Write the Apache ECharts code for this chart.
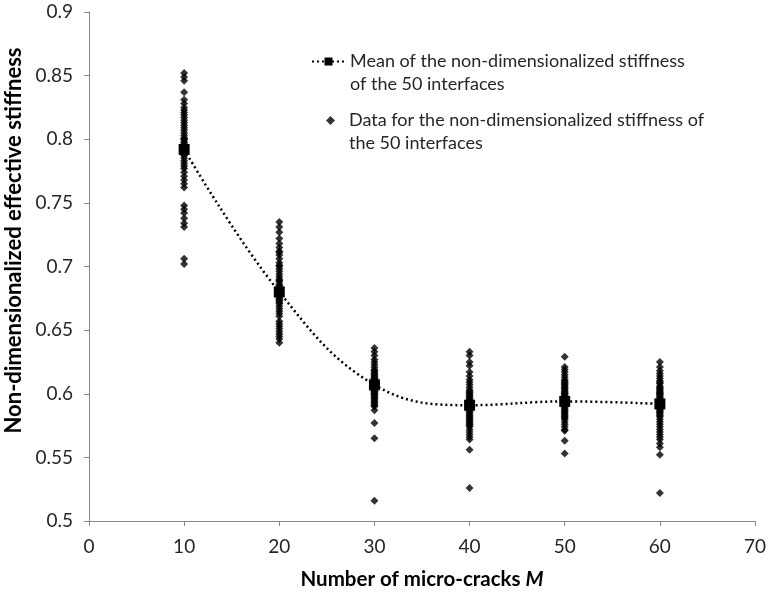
<!DOCTYPE html>
<html>
<head>
<meta charset="utf-8">
<script src="https://cdn.jsdelivr.net/npm/echarts@6/dist/echarts.min.js"></script>
<style>
  html, body { margin: 0; padding: 0; background: #fff; }
  #chart { width: 769px; height: 594px; }
</style>
</head>
<body>
<div id="chart"></div>
<script>
  // number of micro-cracks (x positions of the columns)
  var crackCounts = [10, 20, 30, 40, 50, 60];

  // mean stiffness of the 50 interfaces for each M
  var meanStiffness = [0.792, 0.680, 0.607, 0.591, 0.594, 0.592];

  // stiffness of the 50 interfaces, one array per M
  var stiffnessM10 = [0.852, 0.849, 0.846, 0.837, 0.831, 0.828, 0.825, 0.823, 0.821, 0.819,
    0.817, 0.815, 0.813, 0.811, 0.809, 0.807, 0.805, 0.803, 0.801, 0.800,
    0.798, 0.797, 0.795, 0.794, 0.793, 0.792, 0.791, 0.790, 0.789, 0.788,
    0.787, 0.785, 0.783, 0.781, 0.779, 0.777, 0.774, 0.771, 0.768, 0.765,
    0.762, 0.748, 0.745, 0.742, 0.738, 0.734, 0.731, 0.706, 0.702, 0.800];
  var stiffnessM20 = [0.735, 0.731, 0.727, 0.722, 0.718, 0.715, 0.712, 0.709, 0.706, 0.703,
    0.700, 0.698, 0.696, 0.694, 0.692, 0.690, 0.688, 0.686, 0.684, 0.683,
    0.682, 0.681, 0.680, 0.679, 0.678, 0.677, 0.676, 0.675, 0.674, 0.673,
    0.671, 0.669, 0.667, 0.665, 0.663, 0.661, 0.657, 0.655, 0.653, 0.651,
    0.649, 0.647, 0.645, 0.643, 0.640, 0.701, 0.711, 0.689, 0.685, 0.672];
  var stiffnessM30 = [0.636, 0.633, 0.630, 0.627, 0.625, 0.623, 0.621, 0.619, 0.618, 0.617,
    0.616, 0.615, 0.614, 0.613, 0.612, 0.611, 0.610, 0.609, 0.608, 0.607,
    0.607, 0.606, 0.606, 0.605, 0.605, 0.604, 0.604, 0.603, 0.602, 0.601,
    0.600, 0.600, 0.599, 0.598, 0.597, 0.596, 0.595, 0.594, 0.593, 0.592,
    0.591, 0.590, 0.587, 0.577, 0.565, 0.516, 0.608, 0.612, 0.603, 0.602];
  var stiffnessM40 = [0.633, 0.630, 0.625, 0.622, 0.617, 0.614, 0.611, 0.609, 0.607, 0.605,
    0.603, 0.601, 0.600, 0.599, 0.598, 0.597, 0.596, 0.595, 0.594, 0.593,
    0.592, 0.591, 0.591, 0.590, 0.590, 0.589, 0.588, 0.587, 0.586, 0.585,
    0.584, 0.583, 0.582, 0.581, 0.580, 0.579, 0.578, 0.577, 0.576, 0.575,
    0.574, 0.572, 0.570, 0.568, 0.566, 0.564, 0.556, 0.526, 0.602, 0.594];
  var stiffnessM50 = [0.629, 0.621, 0.619, 0.617, 0.615, 0.613, 0.611, 0.610, 0.608, 0.607,
    0.606, 0.605, 0.604, 0.603, 0.602, 0.601, 0.600, 0.599, 0.598, 0.597,
    0.596, 0.596, 0.595, 0.595, 0.594, 0.594, 0.593, 0.593, 0.592, 0.591,
    0.590, 0.589, 0.588, 0.587, 0.586, 0.585, 0.584, 0.583, 0.582, 0.581,
    0.580, 0.578, 0.576, 0.574, 0.572, 0.571, 0.563, 0.553, 0.600, 0.609];
  var stiffnessM60 = [0.625, 0.621, 0.618, 0.616, 0.614, 0.612, 0.610, 0.608, 0.606, 0.605,
    0.604, 0.603, 0.602, 0.601, 0.600, 0.599, 0.598, 0.597, 0.596, 0.595,
    0.594, 0.593, 0.592, 0.592, 0.591, 0.591, 0.590, 0.589, 0.588, 0.587,
    0.586, 0.585, 0.584, 0.583, 0.582, 0.580, 0.578, 0.576, 0.574, 0.572,
    0.570, 0.568, 0.566, 0.564, 0.561, 0.558, 0.552, 0.522, 0.600, 0.609];

  var allStiffness = [stiffnessM10, stiffnessM20, stiffnessM30, stiffnessM40, stiffnessM50, stiffnessM60];

  var meanName = 'Mean of the non-dimensionalized stiffness\nof the 50 interfaces';
  var dataName = 'Data for the non-dimensionalized stiffness of\nthe 50 interfaces';

  var scatterPoints = [];
  allStiffness.forEach(function (col, i) {
    col.forEach(function (v) {
      scatterPoints.push([crackCounts[i], v]);
    });
  });
  var meanPoints = crackCounts.map(function (m, i) {
    return [m, meanStiffness[i]];
  });

  var font = 'Lato, "Open Sans", sans-serif';
  var axisGray = '#868686';

  var chart = echarts.init(document.getElementById('chart'));

  // one legend box per entry so the icon sits on the first text line
  function legendBox(name, left, top, w, h, padLeft) {
    return {
      data: [name],
      orient: 'vertical',
      left: left,
      top: top,
      padding: 0,
      itemWidth: w,
      itemHeight: h,
      selectedMode: false,
      formatter: function (n) { return '\n' + n; },
      textStyle: {
        fontFamily: font,
        fontSize: 18,
        lineHeight: 23,
        color: '#262626',
        padding: [0, 0, 0, padLeft]
      }
    };
  }

  chart.setOption({
    animation: false,
    grid: {
      left: 89,
      right: 14,
      top: 12,
      bottom: 73,
      outerBoundsMode: 'none'
    },
    legend: [
      legendBox(meanName, 311, 27, 33, 10, 0),
      legendBox(dataName, 326, 86, 9, 9, 9)
    ],
    xAxis: {
      type: 'value',
      min: 0,
      max: 70,
      interval: 10,
      name: '{t|Number of micro-cracks }{m|M}',
      nameLocation: 'middle',
      nameGap: 48,
      nameTextStyle: {
        rich: {
          t: { fontFamily: font, fontSize: 20.5, fontWeight: 'bold', color: '#000' },
          m: { fontFamily: font, fontSize: 20.5, fontWeight: 'bold', fontStyle: 'italic', color: '#000' }
        }
      },
      splitLine: { show: false },
      axisLine: { lineStyle: { color: axisGray } },
      axisTick: { show: true, length: 5, lineStyle: { color: axisGray } },
      axisLabel: { fontFamily: font, fontSize: 19, color: '#262626', margin: 16 }
    },
    yAxis: {
      type: 'value',
      min: 0.5,
      max: 0.9,
      interval: 0.05,
      name: 'Non-dimensionalized effective stiffness',
      nameLocation: 'middle',
      nameGap: 58,
      nameTextStyle: {
        fontFamily: font,
        fontSize: 22,
        fontWeight: 'bold',
        color: '#000',
        padding: [0, 0, 0, 52]
      },
      splitLine: { show: false },
      axisLine: { show: true, lineStyle: { color: axisGray } },
      axisTick: { show: true, length: 5, lineStyle: { color: axisGray } },
      axisLabel: {
        fontFamily: font,
        fontSize: 19,
        color: '#262626',
        margin: 16,
        formatter: function (v) { return String(Math.round(v * 100) / 100); }
      }
    },
    series: [
      {
        name: dataName,
        type: 'scatter',
        symbol: 'diamond',
        symbolSize: 8,
        itemStyle: { color: '#000' },
        data: scatterPoints,
        z: 2
      },
      {
        name: meanName,
        type: 'line',
        smooth: 0.4,
        symbol: 'rect',
        symbolSize: 11,
        itemStyle: { color: '#000' },
        lineStyle: { color: '#000', width: 2.5, type: [2, 3] },
        data: meanPoints,
        z: 3
      }
    ]
  });
</script>
</body>
</html>
